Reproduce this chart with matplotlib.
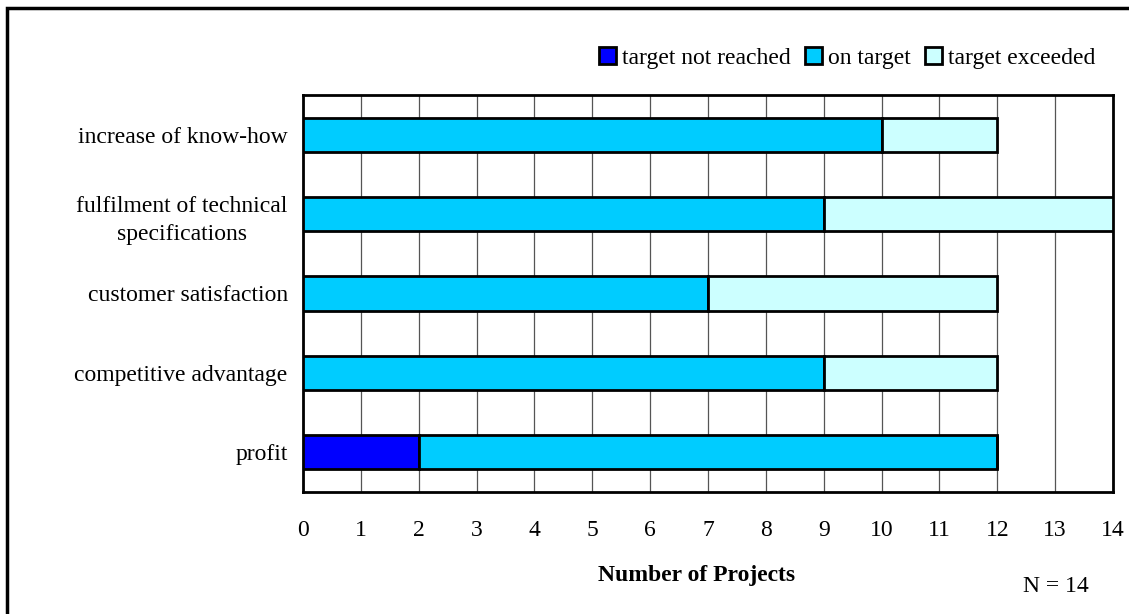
import numpy as np
import matplotlib.pyplot as plt
from matplotlib.patches import Rectangle, Patch

plt.rcParams['font.family'] = ['Liberation Serif', 'DejaVu Serif']

categories = ["profit", "competitive advantage", "customer satisfaction",
              "fulfilment of technical\nspecifications", "increase of know-how"]
not_reached = [2, 0, 0, 0, 0]
on_target = [10, 9, 7, 9, 10]
exceeded = [0, 3, 5, 5, 2]
series_names = ["target not reached", "on target", "target exceeded"]
colors = ["#0000FF", "#00CCFF", "#CCFFFF"]

fs = 17

fig = plt.figure(figsize=(11.29, 6.14), dpi=100)
ax = fig.add_axes([0.2684, 0.1987, 0.7174, 0.6466])

y = np.arange(len(categories))
left = np.zeros(len(categories))
for vals, c in zip([not_reached, on_target, exceeded], colors):
    vals = np.array(vals, dtype=float)
    ax.barh(y, vals, left=left, height=0.43, color=c, edgecolor="black",
            linewidth=2, zorder=3)
    left += vals

ax.set_xlim(0, 14)
ax.set_ylim(-0.5, 4.5)
ax.set_xticks(range(15))
ax.set_yticks(y)
ax.set_yticklabels(categories, fontsize=fs, linespacing=1.45, multialignment="center")
ax.tick_params(axis="x", labelsize=fs, length=0, pad=20)
ax.tick_params(axis="y", length=0, pad=11)
ax.grid(axis="x", color="#555555", linewidth=0.9, zorder=0)
for s in ax.spines.values():
    s.set_linewidth(2)
ax.set_xlabel("Number of Projects", fontsize=fs, fontweight="bold")
ax.xaxis.set_label_coords(0.486, -0.183)

handles = [Patch(facecolor=c, edgecolor="black", linewidth=2) for c in colors]
fig.legend(handles, series_names, loc="center right", bbox_to_anchor=(0.970, 0.905),
           ncol=3, frameon=False, fontsize=fs, handlelength=0.72, handleheight=0.72,
           handletextpad=0.25, columnspacing=0.6, borderaxespad=0, borderpad=0)

fig.text(0.935, 0.044, "N = 14", fontsize=fs, ha="center", va="center")

fig.patches.append(Rectangle((0.0065, -0.01), 1.5, 0.997, transform=fig.transFigure,
                             fill=False, edgecolor="black", linewidth=2.5))

fig.savefig("out.png", dpi=100)
